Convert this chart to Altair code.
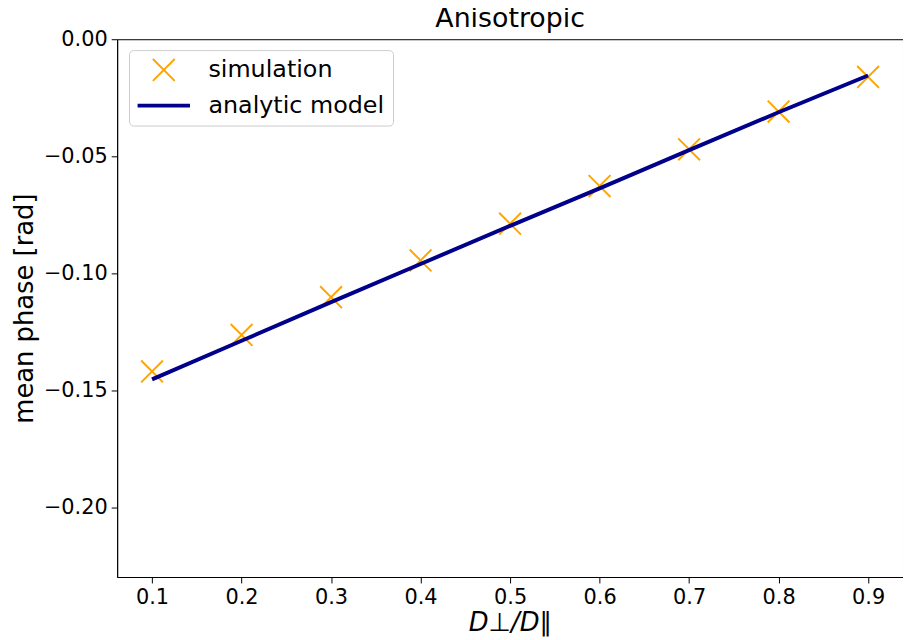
import altair as alt
import pandas as pd

x_vals = [0.1, 0.2, 0.3, 0.4, 0.5, 0.6, 0.7, 0.8, 0.9]
sim_vals = [-0.1419, -0.1263, -0.1102, -0.0945, -0.0788, -0.0627, -0.0470, -0.0309, -0.0161]
model_vals = [-0.1453, -0.1288, -0.1123, -0.0960, -0.0797, -0.0637, -0.0474, -0.0312, -0.0155]
series_names = ["simulation", "analytic model"]
y_ticks = [0.0, -0.05, -0.10, -0.15, -0.20]

sim_df = pd.DataFrame({"x": x_vals, "y": sim_vals, "series": series_names[0]})
model_df = pd.DataFrame({"x": x_vals, "y": model_vals, "series": series_names[1]})

X_PATH = "M-1,-1L1,1M-1,1L1,-1"
LINE_PATH = "M-2.4,-0.08L2.4,-0.08M-2.4,0.08L2.4,0.08"
FONT = "DejaVu Sans"

color_scale = alt.Scale(domain=series_names, range=["#FFA500", "#00008B"])
shape_scale = alt.Scale(domain=series_names, range=[X_PATH, LINE_PATH])

legend = alt.Legend(
    title=None,
    orient="none",
    legendX=12,
    legendY=11,
    fillColor="white",
    strokeColor="#cccccc",
    cornerRadius=4,
    padding=8,
    labelFont=FONT,
    labelFontSize=24,
    labelColor="black",
    labelOffset=33,
    labelLimit=400,
    rowPadding=9,
    symbolSize=484,
    symbolStrokeWidth=2,
    symbolOffset=15,
)

xscale = alt.Scale(domain=[0.061, 0.939], nice=False, zero=False)
yscale = alt.Scale(domain=[-0.2297, 0.0], nice=False, zero=False)

xenc = alt.X("x:Q", scale=xscale,
             axis=alt.Axis(values=x_vals, format=".1f", title="D⊥/D∥",
                           titleFontStyle="italic"))
yenc = alt.Y("y:Q", scale=yscale,
             axis=alt.Axis(values=y_ticks, format=".2f", title="mean phase [rad]"))

points = alt.Chart(sim_df).mark_point(filled=False, size=484, strokeWidth=2, opacity=1).encode(
    x=xenc, y=yenc,
    color=alt.Color("series:N", scale=color_scale, legend=legend),
    shape=alt.Shape("series:N", scale=shape_scale, legend=legend),
)

line = alt.Chart(model_df).mark_line(strokeWidth=4).encode(
    x=xenc, y=yenc,
    color=alt.Color("series:N", scale=color_scale, legend=legend),
)

chart = alt.layer(points, line).properties(
    width=792,
    height=542,
    autosize=alt.AutoSizeParams(type="none"),
    padding={"left": 110, "top": 29, "right": 0, "bottom": 60},
    title=alt.Title("Anisotropic", font=FONT, fontSize=27, fontWeight="normal",
                    color="black", anchor="middle", offset=6, frame="group", dy=11),
).configure_view(
    stroke="black", strokeWidth=1
).configure_axis(
    labelFont=FONT, labelFontSize=21, labelColor="black",
    titleFont=FONT, titleFontSize=26, titleColor="black", titleFontWeight="normal",
    domainColor="black", tickColor="black", tickSize=6, grid=False,
    labelPadding=4,
).configure_axisX(titlePadding=2).configure_axisY(titlePadding=6)

chart.save("out.html", embed_options={"renderer": "svg", "actions": False})
